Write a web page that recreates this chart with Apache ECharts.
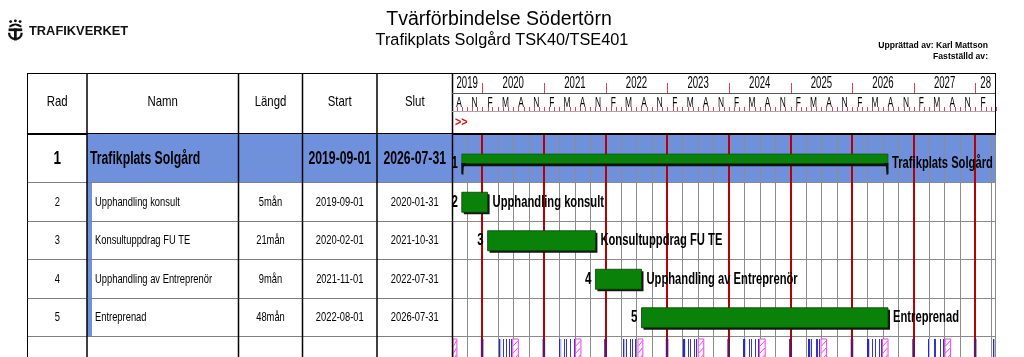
<!DOCTYPE html>
<html><head><meta charset="utf-8">
<script src="https://cdn.jsdelivr.net/npm/echarts@6/dist/echarts.min.js"></script>
<style>html,body{margin:0;padding:0;background:#fff}#c{width:1024px;height:357px}</style>
</head><body><div id="c"></div>
<script>
// ---------- DATA ----------
const rowNumbers = ['1', '2', '3', '4', '5'];
const taskNames = ['Trafikplats Solgård', 'Upphandling konsult', 'Konsultuppdrag FU TE', 'Upphandling av Entreprenör', 'Entreprenad'];
const durations = ['', '5mån', '21mån', '9mån', '48mån'];
const startDates = ['2019-09-01', '2019-09-01', '2020-02-01', '2021-11-01', '2022-08-01'];
const endDates = ['2026-07-31', '2020-01-31', '2021-10-31', '2022-07-31', '2026-07-31'];
const headerLabels = ['Rad', 'Namn', 'Längd', 'Start', 'Slut'];
const yearLabels = ['2019', '2020', '2021', '2022', '2023', '2024', '2025', '2026', '2027', '28'];
const yearValues = [2019, 2020, 2021, 2022, 2023, 2024, 2025, 2026, 2027, 2028];
const monthLetters = ['', 'F', '', '', 'M', '', '', 'A', '', '', 'N', ''];
const axisStart = '2019-07-05';
const axisEnd = '2028-05-02';
const winterBreaks = [
  ['2019-12-23', '2020-01-06'], ['2020-12-23', '2021-01-06'], ['2021-12-23', '2022-01-06'],
  ['2022-12-23', '2023-01-06'], ['2023-12-23', '2024-01-06'], ['2024-12-23', '2025-01-06'],
  ['2025-12-23', '2026-01-06'], ['2026-12-23', '2027-01-06'], ['2027-12-23', '2028-01-06']
];
const easterBreaks = [
  ['2020-04-10', '2020-04-13'], ['2021-04-02', '2021-04-05'], ['2022-04-15', '2022-04-18'],
  ['2023-04-07', '2023-04-10'], ['2024-03-29', '2024-04-01'], ['2025-04-18', '2025-04-21'],
  ['2026-04-03', '2026-04-06'], ['2027-03-26', '2027-03-29'], ['2028-04-14', '2028-04-17']
];
const redDays = [
  '2020-05-01', '2020-05-21', '2020-06-06', '2020-06-19',
  '2021-05-01', '2021-05-13', '2021-06-06', '2021-06-25',
  '2022-05-01', '2022-05-26', '2022-06-06', '2022-06-24',
  '2023-05-01', '2023-05-18', '2023-06-06', '2023-06-23',
  '2024-05-01', '2024-05-09', '2024-06-06', '2024-06-21',
  '2025-05-01', '2025-05-29', '2025-06-06', '2025-06-20',
  '2026-05-01', '2026-05-14', '2026-06-06', '2026-06-19',
  '2027-05-01', '2027-05-06', '2027-06-06', '2027-06-25'
];
const summerBreaks = [
  ['2019-07-01', '2019-08-02'], ['2020-06-29', '2020-07-31'], ['2021-07-05', '2021-08-06'],
  ['2022-07-11', '2022-08-08'], ['2023-07-03', '2023-08-04'], ['2024-07-01', '2024-08-02'],
  ['2025-06-30', '2025-08-01'], ['2026-06-29', '2026-07-31'], ['2027-07-05', '2027-08-06']
];

// ---------- HELPERS ----------
const DAY = 86400000;
function ts(s) { const p = s.split('-').map(Number); return new Date(p[0], p[1] - 1, p[2]).getTime(); }
const MIN = ts(axisStart), MAX = ts(axisEnd);
const FONT = '"Liberation Sans", Arial, sans-serif';
const BLUE = '#6f91dc';
const GREEN = '#0a820a';
function T(x, y, text, size, sx, o) {
  o = o || {};
  return { type: 'text', x: x, y: y, scaleX: sx, z2: 20,
    style: { text: text, font: (o.bold ? 'bold ' : '') + size + 'px ' + FONT, fill: o.color || '#000',
      textAlign: o.align || 'center', textVerticalAlign: 'middle' } };
}
function Ln(x1, y1, x2, y2, c, w) {
  return { type: 'line', shape: { x1: x1, y1: y1, x2: x2, y2: y2 }, style: { stroke: c, lineWidth: w } };
}
function R(x, y, w, h, fill, extra) {
  return { type: 'rect', shape: { x: x, y: y, width: w, height: h }, style: Object.assign({ fill: fill }, extra || {}) };
}
const COLS = [0.5, 60, 211.5, 275.5, 350, 425.5]; // column boundaries relative to table left
const ROW_H = 38.5, LOWER_H = 174;

// quarter gridline ticks and month ticks
const quarterTicks = [], monthTicks = [];
yearValues.forEach(y => {
  for (let m = 0; m < 12; m++) {
    const t = new Date(y, m, 1).getTime();
    const tn = new Date(y, m + 1, 1).getTime();
    if (tn > MIN && t < MAX) monthTicks.push([t, 0, tn, m]);
    if (m % 3 === 0 && t > MIN && t < MAX) quarterTicks.push([t, 0, m]);
  }
});

// ---------- RENDERERS ----------
function tableHeader(params, api) {
  const cs = params.coordSys, ch = [];
  const top = cs.y + 0.5, bot = cs.y + cs.height;
  ch.push(Ln(cs.x, top, cs.x + cs.width, top, '#000', 1.2));
  COLS.forEach((c, i) => ch.push(Ln(cs.x + c, cs.y, cs.x + c, bot, '#000', i === 0 ? 1 : 1.5)));
  ch.push(Ln(cs.x, bot, cs.x + cs.width, bot, '#000', 2));
  headerLabels.forEach((lab, i) => ch.push(T(cs.x + (COLS[i] + COLS[i + 1]) / 2, 102, lab, 15, 0.76)));
  return { type: 'group', children: ch };
}

function ganttHeaderFrame(params, api) {
  const cs = params.coordSys, ch = [];
  const x0 = cs.x, x1 = cs.x + cs.width;
  ch.push(Ln(x0, cs.y + 0.5, x1, cs.y + 0.5, '#000', 1.2));
  ch.push(Ln(x0, cs.y + 20.5, x1, cs.y + 20.5, '#555', 1));
  ch.push(Ln(x0, cs.y + 38.5, x1, cs.y + 38.5, '#a8a8a8', 1));
  ch.push(Ln(x0, cs.y + cs.height, x1, cs.y + cs.height, '#000', 2));
  ch.push(Ln(x1 - 0.5, cs.y, x1 - 0.5, cs.y + cs.height, '#000', 1));
  ch.push(T(x0 + 3, cs.y + 50, '>>', 12, 0.9, { bold: true, color: '#e01010', align: 'left' }));
  return { type: 'group', children: ch };
}

function ganttHeaderYears(params, api) {
  const cs = params.coordSys, i = params.dataIndex, ch = [];
  const ys = new Date(yearValues[i], 0, 1).getTime();
  const ye = new Date(yearValues[i] + 1, 0, 1).getTime();
  const a = api.coord([Math.max(ys, MIN), 0])[0];
  const b = api.coord([Math.min(ye, MAX), 0])[0];
  ch.push(T((a + b) / 2, cs.y + 11, yearLabels[i], 16, 0.6));
  if (ys > MIN) {
    const x = Math.round(api.coord([ys, 0])[0]) + 0.5;
    ch.push(Ln(x, cs.y + 10, x, cs.y + 20, '#e04060', 1));
  }
  return { type: 'group', children: ch };
}

function ganttHeaderMonths(params, api) {
  const cs = params.coordSys, ch = [];
  const t = api.value(0), tn = api.value(2), m = api.value(3);
  if (t > MIN) {
    const x = Math.round(api.coord([t, 0])[0]) + 0.5;
    ch.push(Ln(x, cs.y + 34, x, cs.y + 38, '#e04060', 1));
  }
  if (monthLetters[m] && (t + tn) / 2 < MAX && (t + tn) / 2 > MIN) {
    const c = (api.coord([t, 0])[0] + api.coord([tn, 0])[0]) / 2;
    ch.push(T(c, cs.y + 30, monthLetters[m], 14, 0.6));
  }
  return { type: 'group', children: ch };
}

function tableRow(offset) {
  return function (params, api) {
    const cs = params.coordSys, ri = api.value(1), ti = ri + offset, ch = [];
    const c = api.coord([0, ri]), bh = api.size([0, 1])[1];
    const top = c[1] - bh / 2, bot = c[1] + bh / 2, cy = c[1];
    const has = ti < taskNames.length, sum = ti === 0;
    if (sum) ch.push(R(cs.x + COLS[1], top, cs.width - COLS[1], bh, BLUE));
    else if (has) ch.push(R(cs.x + COLS[1], top, 5, bh, BLUE));
    ch.push(Ln(cs.x, Math.round(bot) - 0.5, cs.x + cs.width, Math.round(bot) - 0.5, '#7f7f7f', 1));
    COLS.forEach((cc, i) => ch.push(Ln(cs.x + cc, top, cs.x + cc, bot, '#000', i === 0 ? 1 : 1.5)));
    if (has) {
      const mid = i => cs.x + (COLS[i] + COLS[i + 1]) / 2;
      if (sum) {
        ch.push(T(mid(0), cy + 0.5, rowNumbers[ti], 18, 0.75, { bold: true }));
        ch.push(T(cs.x + 63, cy + 0.5, taskNames[ti], 18, 0.68, { bold: true, align: 'left' }));
        ch.push(T(mid(2), cy + 0.5, durations[ti], 18, 0.68, { bold: true }));
        ch.push(T(mid(3), cy + 0.5, startDates[ti], 18, 0.68, { bold: true }));
        ch.push(T(mid(4), cy + 0.5, endDates[ti], 18, 0.68, { bold: true }));
      } else {
        ch.push(T(mid(0), cy, rowNumbers[ti], 13, 0.72));
        ch.push(T(cs.x + 68, cy, taskNames[ti], 13, 0.72, { align: 'left' }));
        ch.push(T(mid(2), cy, durations[ti], 13, 0.72));
        ch.push(T(mid(3), cy, startDates[ti], 13, 0.72));
        ch.push(T(mid(4), cy, endDates[ti], 13, 0.72));
      }
    }
    return { type: 'group', children: ch };
  };
}

function rowFrame(withBlue) {
  return function (params, api) {
    const cs = params.coordSys, ri = api.value(1), ch = [];
    const c = api.coord([MIN, ri]), bh = api.size([0, 1])[1];
    const top = c[1] - bh / 2, bot = c[1] + bh / 2;
    if (withBlue) ch.push(R(cs.x, top, cs.width, bh, BLUE));
    ch.push(Ln(cs.x, Math.round(bot) - 0.5, cs.x + cs.width, Math.round(bot) - 0.5, '#8a8a8a', 1));
    ch.push(Ln(cs.x + cs.width - 0.5, top, cs.x + cs.width - 0.5, bot, '#8a8a8a', 1));
    return { type: 'group', children: ch };
  };
}

function gridLines(params, api) {
  const cs = params.coordSys, t = api.value(0), m = api.value(2);
  const x = api.coord([t, 0])[0];
  const yr = m === 0;
  const px = yr ? Math.round(x) : Math.round(x) + 0.5;
  return Ln(px, cs.y, px, cs.y + cs.height, yr ? '#b80000' : '#8c8c8c', yr ? 2 : 1);
}

function barRender(summary) {
  return function (params, api) {
    const ri = api.value(2), ti = summary ? 0 : ri + 1, ch = [];
    const s = api.coord([api.value(0), ri]), e = api.coord([api.value(1), ri]);
    const x0 = s[0], x1 = e[0], cy = s[1];
    if (summary) {
      const top = cy - 4.5;
      ch.push(R(x0, top + 9, x1 - x0, 3.2, '#101010'));
      ch.push(R(x0, top, x1 - x0, 9.5, GREEN, { stroke: '#0a4a0a', lineWidth: 0.6 }));
      ch.push({ type: 'polygon', shape: { points: [[x0 - 0.5, top + 9], [x0 + 4, top + 9], [x0 + 2, top + 13], [x0 + 1.5, top + 21], [x0 - 0.5, top + 20]] },
        style: { fill: '#101010' } });
      ch.push({ type: 'polygon', shape: { points: [[x1 + 0.5, top + 9], [x1 - 4, top + 9], [x1 - 2, top + 13], [x1 - 1.5, top + 21], [x1 + 0.5, top + 20]] },
        style: { fill: '#101010' } });
      ch.push(T(x0 - 4, cy + 5.5, rowNumbers[ti], 16, 0.72, { bold: true, align: 'right' }));
      ch.push(T(x1 + 4, cy + 5.5, taskNames[ti], 16, 0.7, { bold: true, align: 'left' }));
    } else {
      const h = 20, top = cy - h / 2;
      ch.push(R(x0 + 2, top + 2, x1 - x0, h, '#141414'));
      ch.push(R(x0, top, x1 - x0, h, GREEN, { stroke: '#064006', lineWidth: 0.8 }));
      ch.push(T(x0 - 4, cy, rowNumbers[ti], 16, 0.72, { bold: true, align: 'right' }));
      ch.push(T(x1 + 5, cy, taskNames[ti], 16, 0.7, { bold: true, align: 'left' }));
    }
    return { type: 'group', children: ch };
  };
}

// holiday markers: [start, endExclusive, row, kind]
const HROW = 4;
const holidayData = [];
winterBreaks.forEach(r => holidayData.push([ts(r[0]), ts(r[1]) + DAY, HROW, 0]));
easterBreaks.forEach(r => holidayData.push([ts(r[0]), ts(r[1]) + DAY, HROW, 1]));
redDays.forEach(d => holidayData.push([ts(d), ts(d) + DAY, HROW, 2]));
summerBreaks.forEach(r => holidayData.push([ts(r[0]), ts(r[1]) + DAY, HROW, 3]));

function holidayRender(params, api) {
  const cs = params.coordSys, ch = [];
  const c = api.coord([api.value(0), api.value(2)]), bh = api.size([0, 1])[1];
  let x0 = c[0], x1 = api.coord([api.value(1), api.value(2)])[0];
  x0 = Math.max(x0, cs.x + 1); x1 = Math.min(x1, cs.x + cs.width - 1);
  if (x1 <= x0) return null;
  const top = c[1] - bh / 2 + 2, bot = c[1] + bh / 2;
  const k = api.value(3);
  if (k === 0) ch.push(R(x0, top, Math.max(x1 - x0, 2), bot - top, '#5e1468'));
  else if (k === 1) {
    ch.push(R(x0, top, Math.max(x1 - x0, 2), bot - top, '#b4b8f2'));
    ch.push(Ln(Math.round(x0) + 0.5, top, Math.round(x0) + 0.5, bot, '#2a2ac0', 1));
    ch.push(Ln(Math.round(x1) - 0.5, top, Math.round(x1) - 0.5, bot, '#2a2ac0', 1));
  } else if (k === 2) ch.push(Ln(Math.round(x0) + 0.5, top, Math.round(x0) + 0.5, bot, '#3434c8', 1));
  else {
    ch.push(R(x0, top, x1 - x0, bot - top, '#fff', { stroke: '#f040f0', lineWidth: 1 }));
    for (let y = top + 2; y < bot; y += 7) ch.push(Ln(x0 + 0.5, y + 5, x1 - 0.5, y, '#f040f0', 1));
  }
  return { type: 'group', children: ch };
}

// ---------- OPTION ----------
const GL = 27, GX = 452, GW = 544, TW = 425;
const rowsLower = ['2', '3', '4', '5', '6'];
const lowerY = (gi) => ({ type: 'value', gridIndex: gi, min: -0.5, max: -0.5 + LOWER_H / ROW_H, inverse: true, show: false });
const option = {
  animation: false,
  backgroundColor: '#fff',
  grid: [
    { left: GL, top: 73, width: TW, height: 61 },
    { left: GX, top: 73, width: GW, height: 61 },
    { left: GL, top: 134, width: TW, height: 49 },
    { left: GX, top: 134, width: GW, height: 49 },
    { left: GL, top: 183, width: TW, height: LOWER_H },
    { left: GX, top: 183, width: GW, height: LOWER_H }
  ],
  xAxis: [0, 1, 2, 3, 4, 5].map(i => (i % 2 === 0)
    ? { type: 'value', gridIndex: i, min: 0, max: 1, show: false }
    : { type: 'time', gridIndex: i, min: MIN, max: MAX, show: false }),
  yAxis: [
    { type: 'category', gridIndex: 0, data: ['h'], show: false },
    { type: 'category', gridIndex: 1, data: ['h'], show: false },
    { type: 'category', gridIndex: 2, data: [rowNumbers[0]], show: false, inverse: true },
    { type: 'category', gridIndex: 3, data: [rowNumbers[0]], show: false, inverse: true },
    lowerY(4),
    lowerY(5)
  ],
  graphic: [
    { type: 'group', x: 7.5, y: 19.5, scaleX: 1.05, scaleY: 1.05, children: [
      { type: 'circle', shape: { cx: 3, cy: 2, r: 1.4 }, style: { fill: '#111' } },
      { type: 'circle', shape: { cx: 7.5, cy: 1.3, r: 1.4 }, style: { fill: '#111' } },
      { type: 'circle', shape: { cx: 12, cy: 2, r: 1.4 }, style: { fill: '#111' } },
      { type: 'polygon', shape: { points: [[1.5, 6], [4.5, 4.3], [7.5, 3.8], [10.5, 4.3], [13.5, 6], [13, 7.5], [7.5, 5.5], [2, 7.5]] }, style: { fill: '#111' } },
      { type: 'rect', shape: { x: 1, y: 8.5, width: 13, height: 2.6 }, style: { fill: '#111' } },
      { type: 'rect', shape: { x: 6.2, y: 8.5, width: 2.6, height: 11.5 }, style: { fill: '#111' } },
      { type: 'bezierCurve', shape: { x1: 1.5, y1: 12.5, cpx1: 1.5, cpy1: 20.5, cpx2: 13.5, cpy2: 20.5, x2: 13.5, y2: 12.5 }, style: { stroke: '#111', lineWidth: 2.2, fill: null } }
    ] },
    { type: 'text', x: 29, y: 32, scaleX: 1.07, style: { text: 'TRAFIKVERKET', font: 'bold 12px ' + FONT, fill: '#111', textVerticalAlign: 'middle' } },
    { type: 'text', x: 499, y: 20, style: { text: 'Tvärförbindelse Södertörn', font: '19.5px ' + FONT, fill: '#000', textAlign: 'center', textVerticalAlign: 'middle' } },
    { type: 'text', x: 502, y: 41, style: { text: 'Trafikplats Solgård TSK40/TSE401', font: '16.3px ' + FONT, fill: '#000', textAlign: 'center', textVerticalAlign: 'middle' } },
    { type: 'text', x: 988, y: 46, style: { text: 'Upprättad av: Karl Mattson', font: 'bold 8.6px ' + FONT, fill: '#000', textAlign: 'right', textVerticalAlign: 'middle' } },
    { type: 'text', x: 988, y: 57, style: { text: 'Fastställd av:', font: 'bold 8.6px ' + FONT, fill: '#000', textAlign: 'right', textVerticalAlign: 'middle' } }
  ],
  series: [
    { type: 'custom', xAxisIndex: 0, yAxisIndex: 0, z: 5, silent: true, data: [[0, 0]], renderItem: tableHeader },
    { type: 'custom', xAxisIndex: 1, yAxisIndex: 1, z: 5, silent: true, data: [[MIN, 0]], renderItem: ganttHeaderFrame },
    { type: 'custom', xAxisIndex: 1, yAxisIndex: 1, z: 6, silent: true, data: yearValues.map(y => [new Date(y, 0, 1).getTime(), 0]), renderItem: ganttHeaderYears },
    { type: 'custom', xAxisIndex: 1, yAxisIndex: 1, z: 6, silent: true, data: monthTicks, renderItem: ganttHeaderMonths },
    { type: 'custom', xAxisIndex: 2, yAxisIndex: 2, z: 5, silent: true, data: [[0, 0]], renderItem: tableRow(0) },
    { type: 'custom', xAxisIndex: 4, yAxisIndex: 4, z: 5, silent: true, data: rowsLower.map((r, i) => [0, i]), renderItem: tableRow(1) },
    { type: 'custom', xAxisIndex: 3, yAxisIndex: 3, z: 1, silent: true, data: [[MIN, 0]], renderItem: rowFrame(true) },
    { type: 'custom', xAxisIndex: 5, yAxisIndex: 5, z: 1, silent: true, data: rowsLower.map((r, i) => [MIN, i]), renderItem: rowFrame(false) },
    { type: 'custom', xAxisIndex: 3, yAxisIndex: 3, z: 2, silent: true, data: quarterTicks, renderItem: gridLines },
    { type: 'custom', xAxisIndex: 5, yAxisIndex: 5, z: 2, silent: true, data: quarterTicks, renderItem: gridLines },
    { type: 'custom', xAxisIndex: 5, yAxisIndex: 5, z: 3, silent: true, data: holidayData, renderItem: holidayRender },
    { type: 'custom', xAxisIndex: 3, yAxisIndex: 3, z: 8, silent: true,
      data: [[ts(startDates[0]), ts(endDates[0]) + DAY, 0]], renderItem: barRender(true) },
    { type: 'custom', xAxisIndex: 5, yAxisIndex: 5, z: 8, silent: true,
      data: startDates.slice(1).map((s, i) => [ts(s), ts(endDates[i + 1]) + DAY, i]), renderItem: barRender(false) }
  ]
};
const chart = echarts.init(document.getElementById('c'));
chart.setOption(option);
</script>
</body></html>
